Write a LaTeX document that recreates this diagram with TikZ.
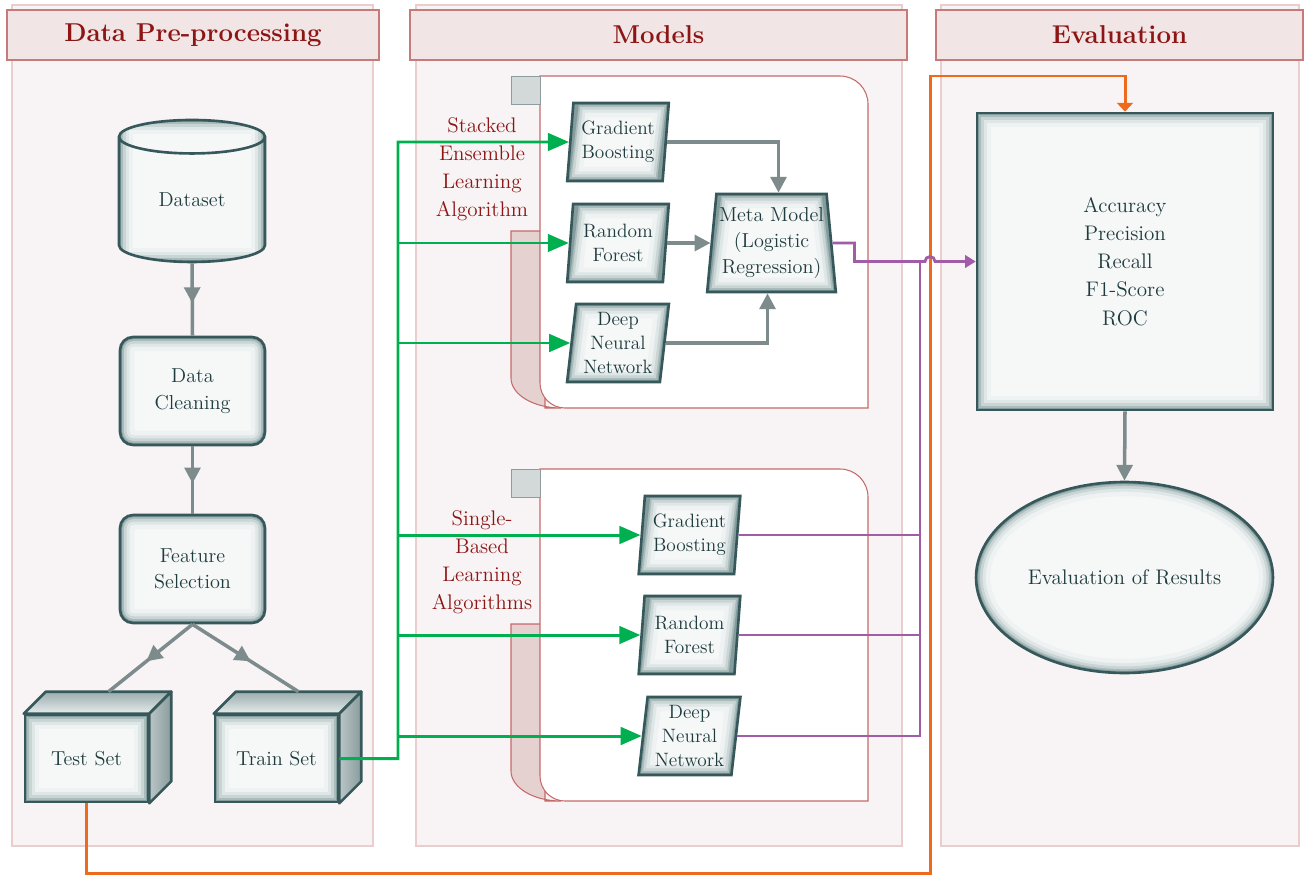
\documentclass[tikz,border=0pt]{standalone}
\usetikzlibrary{shapes.geometric,arrows.meta,decorations.markings}

\definecolor{panelfill}{HTML}{F8F4F5}
\definecolor{paneledge}{HTML}{EACDCD}
\definecolor{headfill}{HTML}{F2E5E5}
\definecolor{headedge}{HTML}{C77A7A}
\definecolor{headred}{HTML}{8C1515}
\definecolor{grpedge}{HTML}{C46A6A}
\definecolor{tabpink}{HTML}{E6D1D1}
\definecolor{tabgray}{HTML}{D3D9D9}
\definecolor{tabedge}{HTML}{8D9D9D}
\definecolor{boxedge}{HTML}{37585A}
\definecolor{boxtext}{HTML}{1E3B3D}
\definecolor{boxfill}{HTML}{F6F7F7}
\definecolor{glowa}{HTML}{EEF2F2}
\definecolor{glowb}{HTML}{DFE6E6}
\definecolor{glowc}{HTML}{C9D4D5}
\definecolor{glowd}{HTML}{AABBBC}
\definecolor{glowe}{HTML}{859C9D}
\definecolor{cubedark}{HTML}{9AACAD}
\definecolor{cubelight}{HTML}{E6ECEC}
\definecolor{sidelight}{HTML}{BAC5C6}
\definecolor{sidedark}{HTML}{8A9C9D}
\definecolor{flowgray}{HTML}{7D8B8D}
\definecolor{flowgreen}{HTML}{00B050}
\definecolor{flowpurple}{HTML}{A05CA6}
\definecolor{floworange}{HTML}{EE6A1C}

\newcommand{\glowlist}{16pt/glowa,11pt/glowb,7.5pt/glowc,4.5pt/glowd,2.5pt/glowe}

\tikzset{
  panel/.style={draw=paneledge, fill=panelfill, line width=0.6pt},
  header/.style={draw=headedge, fill=headfill, line width=0.7pt, minimum height=1cm,
    text=headred, font=\fontsize{14.7}{18}\selectfont\bfseries},
  grplabel/.style={text=headred, align=center, font=\fontsize{12}{16}\selectfont},
  box/.style={draw=boxedge, line width=1.5pt, fill=boxfill, text=boxtext, align=center,
    inner sep=0pt, font=\fontsize{11.5}{15}\selectfont},
  glowrect/.style={path picture={
    \foreach \w/\c in \glowlist
      \draw[line width=\w, draw=\c] (path picture bounding box.south west)
        rectangle (path picture bounding box.north east);}},
  glowquad/.style n args={4}{path picture={
    \foreach \w/\c in \glowlist
      \draw[line width=\w, draw=\c] ([xshift=#1]path picture bounding box.north west)
        -- ([xshift=#2]path picture bounding box.north east)
        -- ([xshift=#3]path picture bounding box.south east)
        -- ([xshift=#4]path picture bounding box.south west) -- cycle;}},
  glowell/.style 2 args={path picture={
    \foreach \w/\c in \glowlist
      \draw[line width=\w, draw=\c] (path picture bounding box.center)
        ellipse [x radius=#1, y radius=#2];}},
  roundbox/.style={box, rounded corners=0.26cm, minimum width=2.9cm, minimum height=2.16cm, glowrect},
  cubebox/.style={box, minimum width=2.46cm, minimum height=1.74cm, glowrect},
  data/.style={box, trapezium, trapezium left angle=83, trapezium right angle=97,
    trapezium stretches=true, minimum width=2.04cm, minimum height=1.56cm,
    font=\fontsize{11}{13.5}\selectfont, glowquad={0.19cm}{0cm}{-0.19cm}{0cm}},
  cubeface/.style={draw=boxedge, line width=1.5pt, line join=round},
  midarrow/.style={draw=flowgray, line width=2pt, postaction={decorate,
    decoration={markings, mark=at position 0.55 with {\arrow{Triangle[length=9pt,width=9pt]}}}}},
  flow/.style={draw=flowgray, line width=2pt, -{Triangle[length=9pt,width=9pt]}},
  greenflow/.style={draw=flowgreen, line width=1.7pt, -{Triangle[length=12pt,width=10pt]}},
  purpleline/.style={draw=flowpurple, line width=1.6pt},
  purpleflow/.style={purpleline, -{Triangle[length=6pt,width=7pt]}},
  orangeflow/.style={draw=floworange, line width=1.7pt, -{Triangle[length=5pt,width=9pt]}}
}

\begin{document}
\begin{tikzpicture}[x=0.02cm, y=-0.02cm]
\useasboundingbox (0,0) rectangle (1305,876);

% columns
\draw[panel] (12,5) rectangle (373,846);
\draw[panel] (416,5) rectangle (902,846);
\draw[panel] (941,5) rectangle (1299,846);
\node[header, minimum width=7.44cm] (hprep) at (193,35) {Data Pre-processing};
\node[header, minimum width=9.94cm] (hmodel) at (658.5,35) {Models};
\node[header, minimum width=7.34cm] (heval) at (1119.5,35) {Evaluation};

% model groups
\foreach \t in {0,393} {
  \draw[draw=grpedge, fill=tabpink, line width=0.6pt] (511,231+\t) -- (545,231+\t)
    -- (545,408+\t) -- (561,408+\t) arc[start angle=90, end angle=180, x radius=50, y radius=30] -- cycle;
  \draw[draw=grpedge, fill=white, line width=0.6pt] (540,76+\t) -- (840,76+\t)
    arc[start angle=-90, end angle=0, radius=28] -- (868,408+\t) -- (565,408+\t)
    arc[start angle=90, end angle=180, radius=25] -- cycle;
  \draw[draw=tabedge, fill=tabgray, line width=0.5pt] (511,76+\t) rectangle (540,104+\t);
}
\node[grplabel] (lstack) at (482,169) {Stacked\\Ensemble\\Learning\\Algorithm};
\node[grplabel] (lsingle) at (482,562) {Single-\\Based\\Learning\\Algorithms};

% pre-processing
\node[box, cylinder, shape border rotate=90, aspect=0.5, minimum width=2.92cm,
  minimum height=2.84cm, glowrect] (dataset) at (192,200) {Dataset};
\node[roundbox] (clean) at (192.5,391) {Data\\Cleaning};
\node[roundbox] (feat) at (192.5,569) {Feature\\Selection};
\node[cubebox] (test) at (86.5,758.5) {Test Set};
\node[cubebox] (train) at (276.5,758.5) {Train Set};
\foreach \c in {test,train} {
  \draw[cubeface, top color=cubedark, bottom color=cubelight] (\c.north west) -- ++(22,-22)
    -- ([shift={(22,-22)}]\c.north east) -- (\c.north east) -- cycle;
  \draw[cubeface, left color=sidelight, right color=sidedark] (\c.north east) -- ++(22,-22)
    -- ([shift={(22,-22)}]\c.south east) -- (\c.south east) -- cycle;
}

% models
\node[data] (sgb) at (618,142) {Gradient\\Boosting};
\node[data] (srf) at (618,243) {Random\\Forest};
\node[data] (sdnn) at (618,343) {Deep\\Neural\\Network};
\node[box, trapezium, trapezium left angle=83, trapezium right angle=83,
  trapezium stretches=true, minimum width=2.58cm, minimum height=1.96cm,
  glowquad={0.24cm}{-0.24cm}{0cm}{0cm}] (meta) at (771.5,243) {Meta Model\\(Logistic\\Regression)};
\node[data] (bgb) at (689.5,535) {Gradient\\Boosting};
\node[data] (brf) at (689.5,635) {Random\\Forest};
\node[data] (bdnn) at (689.5,736) {Deep\\Neural\\Network};

% evaluation
\node[box, minimum width=5.92cm, minimum height=5.94cm, glowrect,
  font=\fontsize{12}{16}\selectfont] (eval) at (1125,261.5) {Accuracy\\Precision\\Recall\\F1-Score\\ROC};
\node[box, ellipse, minimum width=5.94cm, minimum height=3.82cm, glowell={2.97cm}{1.91cm},
  font=\fontsize{12}{16}\selectfont] (result) at (1124.5,577.5) {Evaluation of Results};

% connectors
\draw[midarrow] (dataset.south) -- (clean.north);
\draw[midarrow] (clean.south) -- (feat.north);
\draw[midarrow] (feat.south) -- ([shift={(22,-22)}]test.north);
\draw[midarrow] (feat.south) -- ([shift={(22,-22)}]train.north);

\coordinate (gbus) at (398,142);
\draw[greenflow] (train.east) -| (gbus) -- (sgb.west);
\foreach \n in {srf,sdnn,bgb,brf,bdnn}
  \draw[greenflow] (gbus |- \n.west) -- (\n.west);

\draw[flow] (sgb.east) -| ([xshift=0.14cm]meta.north);
\draw[flow] (srf.east) -- (meta.west);
\draw[flow] (sdnn.east) -| ([xshift=-0.08cm]meta.south);

\coordinate (obot) at (930,873);
\coordinate (otop) at (930,76);
\draw[orangeflow] (test.south) |- (obot) -- (otop) -| (eval.north);

\coordinate (pbus) at (920,261.5);
\coordinate (hop) at (930,261.5);
\draw[purpleflow] (meta.east) -- ++(22,0) |- (pbus) -- ([xshift=-0.1cm]hop)
  arc[start angle=180, end angle=360, radius=5] -- (eval.west);
\draw[purpleline] (bgb.east) -- (bgb.east -| pbus);
\draw[purpleline] (brf.east) -- (brf.east -| pbus);
\draw[purpleline] (bdnn.east) -| (pbus);

\draw[flow] (eval.south) -- (result.north);
\end{tikzpicture}
\end{document}
